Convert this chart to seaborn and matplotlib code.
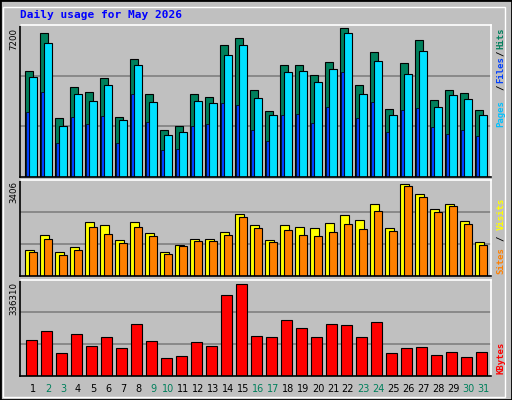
import numpy as np
import pandas as pd
import seaborn as sns
import matplotlib
matplotlib.use("Agg")
import matplotlib.pyplot as plt
from matplotlib.patches import Rectangle

sns.set_style("white")
plt.rcParams['font.family'] = ['DejaVu Sans']

days = list(range(1, 32))
weekend = [2, 3, 9, 10, 16, 17, 23, 24, 30, 31]
hits = [5040, 6800, 2800, 4270, 4030, 4700, 2850, 5580, 3940, 2220, 2420, 3940, 3790, 6260, 6590, 4100, 3140, 5300, 5300, 4820, 5440, 7070, 4340, 5920, 3230, 5390, 6500, 3660, 4100, 4000, 3180]
files = [4720, 6350, 2410, 3950, 3620, 4340, 2700, 5300, 3570, 1970, 2110, 3620, 3520, 5780, 6260, 3760, 2940, 4960, 5010, 4480, 5100, 6830, 3950, 5490, 2940, 4860, 5970, 3330, 3900, 3710, 2940]
pages = [3090, 4050, 1600, 2850, 2510, 2900, 1600, 3950, 2610, 1260, 1310, 2420, 2510, 3520, 3420, 2220, 1700, 2940, 2980, 2560, 3330, 4960, 2800, 3570, 2130, 3180, 3280, 2370, 2030, 2220, 1940]
visits = [930, 1460, 860, 1040, 1930, 1820, 1280, 1930, 1530, 860, 1100, 1310, 1310, 1560, 2200, 1820, 1280, 1820, 1750, 1710, 1890, 2170, 2000, 2560, 1710, 3270, 2920, 2390, 2560, 1950, 1210]
sites = [860, 1310, 750, 920, 1750, 1490, 1170, 1750, 1420, 780, 1070, 1240, 1240, 1460, 2090, 1710, 1210, 1630, 1460, 1420, 1560, 1840, 1660, 2310, 1600, 3200, 2800, 2270, 2490, 1840, 1100]
kbytes = [133000, 163000, 85000, 152000, 111000, 141000, 104000, 192000, 129000, 66000, 74000, 125000, 111000, 296000, 336310, 148000, 144000, 204000, 177000, 141000, 192000, 188000, 144000, 196000, 85000, 104000, 107000, 78000, 89000, 70000, 89000]

df = pd.DataFrame(dict(day=days, hits=hits, files=files, pages=pages,
                       visits=visits, sites=sites, kbytes=kbytes))

W, H = 512, 400
fig = plt.figure(figsize=(W/100, H/100), dpi=100)
fig.patch.set_facecolor('#c0c0c0')
fig.patches.append(Rectangle((0, 0), 1, 1, transform=fig.transFigure, fill=False, ec='black', lw=2))
fig.patches.append(Rectangle((3/W, 3/H), (W-10)/W, (H-10)/H, transform=fig.transFigure, fill=False, ec='white', lw=1))

def px_axes(x0, y0, x1, y1):
    return fig.add_axes([x0/W, 1-y1/H, (x1-x0)/W, (y1-y0)/H])

GREY = '#c0c0c0'
def style(ax, ymax, label, ytop):
    ax.set_facecolor(GREY)
    ax.set_xlim(0, 31.4)
    ax.set_ylim(0, ymax)
    ax.set_xticks([]); ax.set_yticks([])
    for f in (1/3, 2/3):
        ax.axhline(ymax*f, color='#808080', lw=1.2, zorder=0)
    for s in ax.spines.values():
        s.set_color('black'); s.set_linewidth(1.2)
    ax.spines['right'].set_color('white'); ax.spines['top'].set_color('white')
    fig.text(14/W, 1-ytop/H, label, rotation=90, ha='center', va='top',
             fontsize=6.2, color='black')

x = df['day'].values - 1
EC = 'black'
ax1 = px_axes(20, 25, 491, 177)
style(ax1, 7200, '7200', 28)
ax1.bar(x+0.33, df['hits'], width=0.53, align='edge', color='#00805c', ec=EC, lw=0.8)
ax1.bar(x+0.62, df['files'], width=0.5, align='edge', color='#00e0ff', ec=EC, lw=0.8)
ax1.bar(x+0.40, df['pages'], width=0.2, align='edge', color='#0040ff', ec=EC, lw=0.5)

ax2 = px_axes(20, 180, 491, 276)
style(ax2, 3406, '3406', 181)
ax2.bar(x+0.33, df['visits'], width=0.62, align='edge', color='#ffff00', ec=EC, lw=0.8)
ax2.bar(x+0.62, df['sites'], width=0.5, align='edge', color='#ff8000', ec=EC, lw=0.8)

ax3 = px_axes(20, 280, 491, 376)
style(ax3, 336310*285/273, '336310', 282)
ax3.bar(x+0.4, df['kbytes'], width=0.71, align='edge', color='#ff0000', ec=EC, lw=0.8)

for d in days:
    fig.text((20 + 15*(d-1) + 13)/W, 1-389/H, str(d), ha='center', va='center',
             fontsize=7, color='#00805c' if d in weekend else 'black')

fig.text(20/W, 1-15/H, 'Daily usage for May 2026', fontsize=8, color='#0000ff',
         family='DejaVu Sans Mono', weight='bold', ha='left', va='center')

def rlabel(txt, ycen, color):
    fig.text(501/W, 1-ycen/H, txt, rotation=90, ha='center', va='center',
             fontsize=6.5, color=color, family='DejaVu Sans Mono', weight='bold')

rlabel('Hits', 38, '#00805c'); rlabel('/', 53, 'black'); rlabel('Files', 70, '#0040ff')
rlabel('/', 87, 'black'); rlabel('Pages', 114, '#00c0ff')
rlabel('Visits', 214, '#ffff00'); rlabel('/', 238, 'black'); rlabel('Sites', 261, '#ff8000')
rlabel('KBytes', 358, '#ff0000')

fig.savefig('out.png', dpi=100, facecolor=fig.get_facecolor())
